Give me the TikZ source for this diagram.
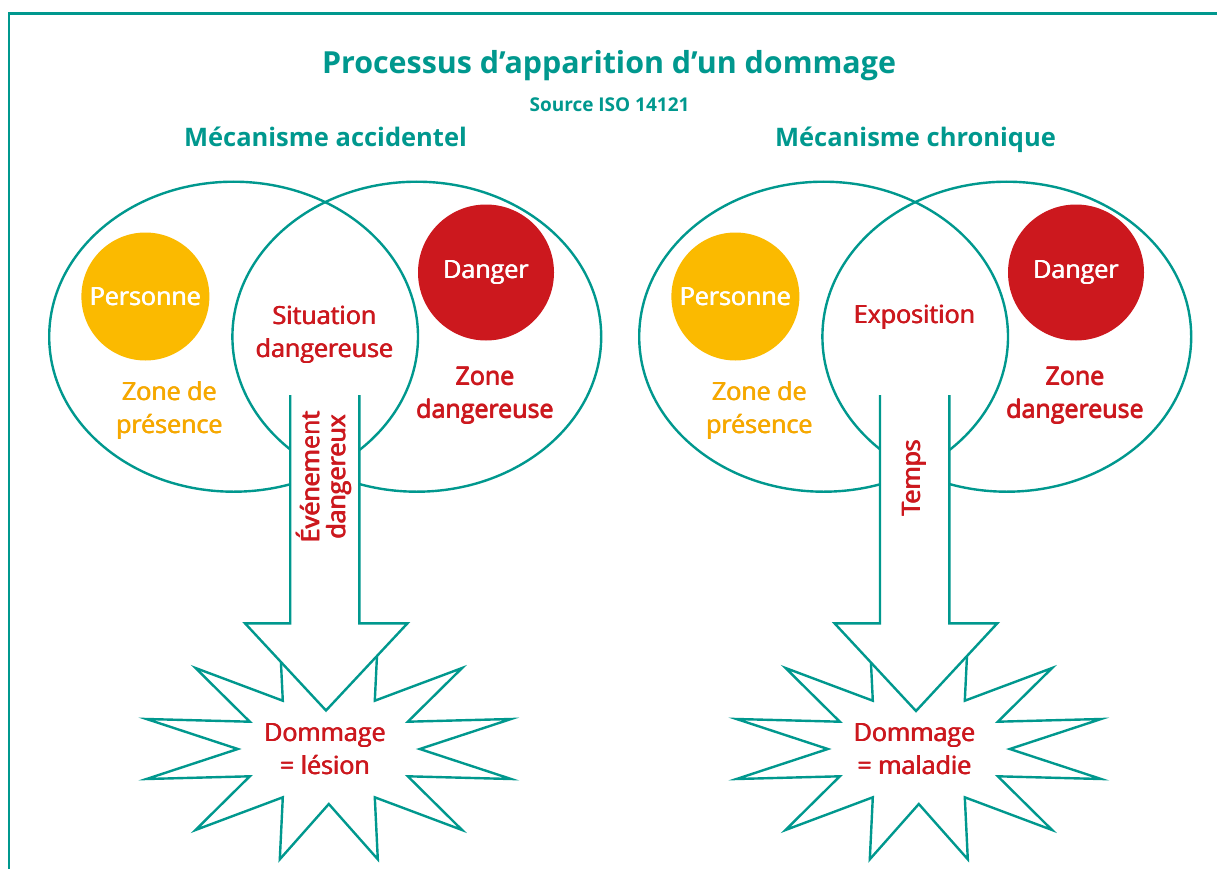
\documentclass[tikz,border=0pt]{standalone}
\usepackage{fontspec}
\setmainfont{Open Sans}
\newcommand{\medfont}{\normalfont}
% poor man's semibold: overlay of shifted copies
\newcommand{\fb}[1]{\leavevmode\rlap{#1}\kern0.8pt\rlap{#1}\kern-0.4pt\raisebox{0.4pt}{#1}\kern0.4pt}
\definecolor{teal1}{RGB}{0,152,142}
\definecolor{dred}{RGB}{204,24,30}
\definecolor{porange}{RGB}{251,186,0}
\definecolor{torange}{RGB}{246,168,0}
\tikzset{
  tealline/.style={draw=teal1, line width=2.4pt},
  lbl/.style={font=\medfont\fontsize{25}{33}\selectfont, align=center, inner sep=0pt},
  redlbl/.style={lbl, text=dred},
  orlbl/.style={lbl, text=torange},
  disc/.style={circle, inner sep=0pt, text=white, font=\medfont\fontsize{25}{33}\selectfont},
  heading/.style={font=\bfseries\fontsize{25.5}{30}\selectfont, text=teal1, inner sep=0pt, anchor=base},
  vlbl/.style={redlbl, rotate=90, font=\medfont\fontsize{25}{26}\selectfont},
  starshape/.style={tealline, fill=white, line join=miter},
  arrowfill/.style={fill=white, draw=none},
}
\newcommand{\starpath}{(91,0) -- (182.3,30) -- (79,27.3) -- (133.3,81) -- (46,48.3) -- (49,110.3) -- (0,55) -- (-49,110.3) -- (-46,48.3) -- (-133.3,81) -- (-79,27.3) -- (-182.3,30) -- (-91,0) -- (-182.3,-30) -- (-79,-27.3) -- (-133.3,-81) -- (-46,-48.3) -- (-49,-110.3) -- (0,-55) -- (49,-110.3) -- (46,-48.3) -- (133.3,-81) -- (79,-27.3) -- (182.3,-30) -- cycle}
\begin{document}
\begin{tikzpicture}[x=1pt,y=-1pt]
\useasboundingbox (0,0) rectangle (1217,869);
\clip (0,0) rectangle (1217,869);
\fill[white] (0,0) rectangle (1217,869);
% frame
\coordinate (fbl) at (9,900);
\coordinate (ftl) at (9,13.5);
\coordinate (ftr) at (1240,13.5);
\draw[tealline] (fbl) -- (ftl) -- (ftr);
% titles
\node[font=\bfseries\fontsize{30.4}{34}\selectfont, text=teal1, inner sep=0pt, anchor=base] (title) at (609,73.3) {Processus d’apparition d’un dommage};
\node[font=\bfseries\fontsize{19}{22}\selectfont, text=teal1, inner sep=0pt, anchor=base] (source) at (609.5,111.5) {Source ISO 14121};
\node[heading] (headA) at (325.5,147) {Mécanisme accidentel};
\node[heading] (headB) at (915.5,147) {Mécanisme chronique};

% ---------- left diagram ----------
\draw[tealline] (233.6,336.7) ellipse [x radius=184.4, y radius=155];
\draw[tealline] (416.8,336.7) ellipse [x radius=184.4, y radius=155];
\node[disc, fill=porange, minimum size=128pt] (persA) at (145.4,296.5) {\fb{Personne}};
\node[disc, fill=dred, minimum size=136pt] (dangA) at (486,272.5) {\fb{Danger}};
\node[redlbl] (sitA) at (324.5,335) {\fb{Situation}\\\fb{dangereuse}};
\node[orlbl] (zpA) at (169.4,410.5) {\fb{Zone de}\\\fb{présence}};
\node[redlbl] (zdA) at (485,395.7) {\fb{Zone}\\\fb{dangereuse}};
\draw[starshape, shift={(328.8,749)}] \starpath;
\fill[arrowfill] (290.2,395) -- (290.2,623.3) -- (245,623.3) -- (326,710.5) -- (407.5,623.3) -- (359.3,623.3) -- (359.3,395) -- cycle;
\draw[tealline] (290.2,395) -- (290.2,623.3) -- (245,623.3) -- (326,710.5) -- (407.5,623.3) -- (359.3,623.3) -- (359.3,395);
\node[vlbl] (evtA) at (323.5,477) {\fb{Événement}\\\fb{dangereux}};
\node[redlbl] (dmgA) at (325,749.3) {\fb{Dommage}\\\fb{= lésion}};

% ---------- right diagram ----------
\draw[tealline] (823.6,336.7) ellipse [x radius=184.4, y radius=155];
\draw[tealline] (1006.8,336.7) ellipse [x radius=184.4, y radius=155];
\node[disc, fill=porange, minimum size=128pt] (persB) at (735.4,296.5) {\fb{Personne}};
\node[disc, fill=dred, minimum size=136pt] (dangB) at (1076,272.5) {\fb{Danger}};
\node[redlbl] (expB) at (914.5,317.5) {\fb{Exposition}};
\node[orlbl] (zpB) at (759.4,410.5) {\fb{Zone de}\\\fb{présence}};
\node[redlbl] (zdB) at (1075,395.7) {\fb{Zone}\\\fb{dangereuse}};
\draw[starshape, shift={(918.8,749)}] \starpath;
\fill[arrowfill] (880,395) -- (880,623.3) -- (834.5,623.3) -- (916,711) -- (997.3,623.3) -- (949.3,623.3) -- (949.3,395) -- cycle;
\draw[tealline] (880,395) -- (880,623.3) -- (834.5,623.3) -- (916,711) -- (997.3,623.3) -- (949.3,623.3) -- (949.3,395);
\node[vlbl] (tmpB) at (914,478) {\fb{Temps}};
\node[redlbl] (dmgB) at (914.5,749.3) {\fb{Dommage}\\\fb{= maladie}};
\end{tikzpicture}
\end{document}
